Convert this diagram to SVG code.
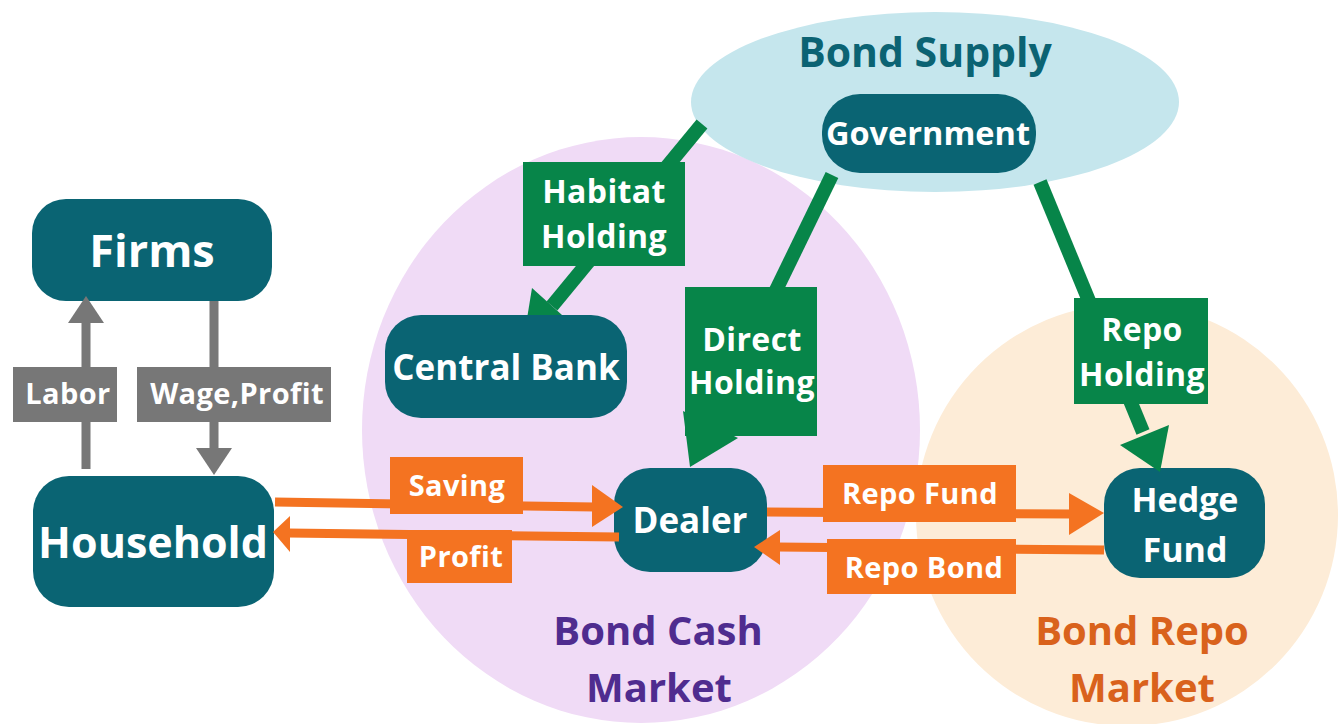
<svg xmlns="http://www.w3.org/2000/svg" width="1343" height="724" viewBox="0 0 1343 724">
  <style>
    text { font-family: "Open Sans", "Noto Sans", "Liberation Sans", sans-serif; font-weight: 700; text-anchor: middle; }
    .node { fill: #0a6473; }
    .node-text { fill: #ffffff; }
    .lbl-text { fill: #ffffff; font-size: 29px; letter-spacing: 0.4px; }
    .hold-text { fill: #ffffff; font-size: 32px; letter-spacing: 0.4px; }
    .green { fill: #078549; }
    .green-line { stroke: #078549; stroke-width: 14; fill: none; }
    .orange { fill: #f47321; }
    .orange-line { stroke: #f47321; stroke-width: 9; fill: none; }
    .gray { fill: #777777; }
    .gray-line { stroke: #777777; stroke-width: 9; fill: none; }
  </style>

  <rect width="1343" height="724" fill="#ffffff"/>

  <!-- market areas -->
  <g id="cash-market">
    <ellipse cx="641" cy="430" rx="279" ry="293" fill="#f0dbf6"/>
    <text x="658" y="645" font-size="40" fill="#4f2c8f">Bond Cash</text>
    <text x="659" y="702" font-size="40" fill="#4f2c8f">Market</text>
  </g>
  <g id="repo-market">
    <circle cx="1127" cy="515" r="211" fill="#fdecd7"/>
    <text x="1142" y="645" font-size="40" fill="#d9621c">Bond Repo</text>
    <text x="1142" y="702" font-size="40" fill="#d9621c">Market</text>
  </g>
  <g id="bond-supply">
    <ellipse cx="935" cy="102" rx="244" ry="90" fill="#c5e6ed"/>
    <text x="925" y="67" font-size="41" fill="#0b6373">Bond Supply</text>
  </g>

  <!-- nodes -->
  <g id="firms">
    <rect class="node" x="32" y="199" width="240" height="102" rx="34"/>
    <text class="node-text" x="152" y="267" font-size="45">Firms</text>
  </g>
  <g id="household">
    <rect class="node" x="33" y="476" width="241" height="131" rx="36"/>
    <text class="node-text" x="153" y="558" font-size="43">Household</text>
  </g>
  <g id="dealer">
    <rect class="node" x="614" y="468" width="153" height="104" rx="36"/>
    <text class="node-text" x="690" y="533" font-size="35">Dealer</text>
  </g>
  <g id="hedge-fund">
    <rect class="node" x="1104" y="468" width="161" height="110" rx="36"/>
    <text class="node-text" x="1185" y="512" font-size="34">Hedge</text>
    <text class="node-text" x="1185" y="562" font-size="34">Fund</text>
  </g>
  <g id="government">
    <rect class="node" x="822" y="94" width="214" height="79" rx="38"/>
    <text class="node-text" x="928" y="145" font-size="32.5">Government</text>
  </g>

  <!-- connectors -->
  <g id="connectors">
    <!-- labour and income between households and firms -->
    <line class="gray-line" x1="86" y1="469" x2="86" y2="320"/>
    <polygon class="gray" points="86,296 104,323 68,323"/>
    <rect class="gray" x="13" y="367" width="104" height="55"/>
    <text class="lbl-text" x="68" y="404" font-size="28">Labor</text>

    <line class="gray-line" x1="214" y1="301" x2="214" y2="450"/>
    <polygon class="gray" points="196,448 232,448 214,475"/>
    <rect class="gray" x="137" y="367" width="194" height="55"/>
    <text class="lbl-text" x="237" y="404" font-size="27">Wage,Profit</text>

    <!-- bond holdings from the government -->
    <line class="green-line" x1="702" y1="124" x2="552" y2="306"/>
    <polygon class="green" points="524,337 532,288 572,324"/>
    <rect class="green" x="523" y="162" width="162" height="104"/>
    <text class="hold-text" x="604" y="203">Habitat</text>
    <text class="hold-text" x="604" y="248">Holding</text>

    <line class="green-line" x1="832" y1="175" x2="712" y2="422"/>
    <polygon class="green" points="690,467 683,411 738,438"/>
    <rect class="green" x="685" y="287" width="132" height="149"/>
    <text class="hold-text" x="752" y="351">Direct</text>
    <text class="hold-text" x="752" y="394">Holding</text>

    <line class="green-line" x1="1040" y1="182" x2="1143" y2="432"/>
    <polygon class="green" points="1160,472 1120,445 1169,425"/>
    <rect class="green" x="1074" y="298" width="134" height="106"/>
    <text class="hold-text" x="1142" y="341">Repo</text>
    <text class="hold-text" x="1142" y="386">Holding</text>

    <!-- cash market flows -->
    <line class="orange-line" x1="275" y1="502" x2="595" y2="507"/>
    <polygon class="orange" points="592,485 623,507 592,527"/>
    <rect class="orange" x="390" y="457" width="133" height="57"/>
    <text class="lbl-text" x="457" y="496">Saving</text>

    <line class="orange-line" x1="619" y1="537" x2="288" y2="533" stroke-width="8"/>
    <polygon class="orange" points="290,516 273,532 290,552"/>
    <rect class="orange" x="407" y="530" width="105" height="53"/>
    <text class="lbl-text" x="461" y="567">Profit</text>

    <!-- repo market flows -->
    <line class="orange-line" x1="767" y1="512" x2="1072" y2="514" stroke-width="8"/>
    <polygon class="orange" points="1069,493 1104,513 1069,535"/>
    <rect class="orange" x="823" y="465" width="193" height="57"/>
    <text class="lbl-text" x="920" y="504">Repo Fund</text>

    <line class="orange-line" x1="1104" y1="550" x2="777" y2="547" stroke-width="8"/>
    <polygon class="orange" points="780,530 754,547 780,565"/>
    <rect class="orange" x="827" y="539" width="189" height="55"/>
    <text class="lbl-text" x="924" y="578">Repo Bond</text>
  </g>

  <g id="central-bank">
    <rect class="node" x="385" y="315" width="242" height="103" rx="36"/>
    <text class="node-text" x="506" y="380" font-size="35">Central Bank</text>
  </g>
</svg>
